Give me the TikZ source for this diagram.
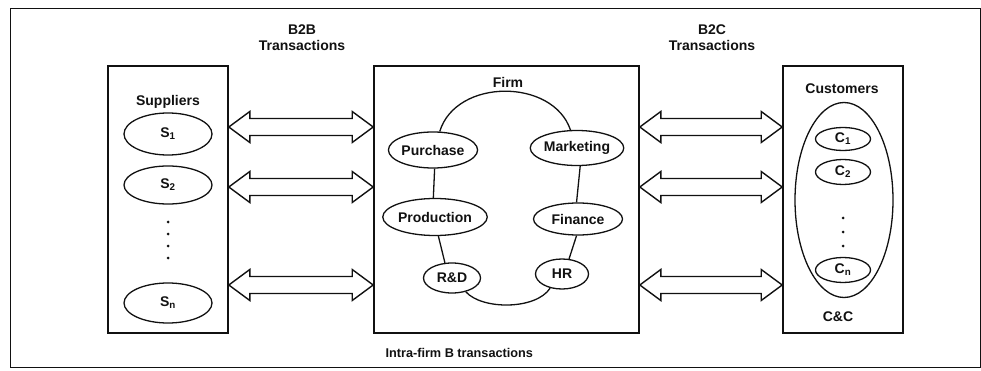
\documentclass[tikz,border=0pt]{standalone}
\usepackage{fontspec}
\setmainfont{Liberation Sans}
\usetikzlibrary{positioning,calc,shapes.geometric}
\definecolor{ink}{HTML}{111111}

% block arrow with a head at both ends, between two boxes at height #3
\newcommand{\twowayarrow}[3]{%
  \draw[twoway] (#1.east |- 0,#3) -- ++(21,-15.5) -- ++(0,7)
    -- ($(#2.west |- 0,#3)+(-21,-8.5)$) -- ++(0,-7) -- (#2.west |- 0,#3)
    -- ++(-21,15.5) -- ++(0,-7) -- ($(#1.east |- 0,#3)+(21,8.5)$) -- ++(0,7) -- cycle;}

\begin{document}
\begin{tikzpicture}[x=1pt,y=-1pt,
  font=\fontsize{14}{16}\selectfont\bfseries, text=ink,
  panel/.style={draw=ink,line width=1.6pt,minimum width=120pt,minimum height=267pt,inner sep=0pt},
  unit/.style={ellipse,draw=ink,line width=1.3pt,inner sep=0pt},
  flow/.style={draw=ink,line width=1.3pt},
  twoway/.style={draw=ink,fill=white,line width=1.4pt,line join=miter},
  dotmark/.style={circle,fill=ink,inner sep=0pt,minimum size=3pt}]
  \useasboundingbox (0,0) rectangle (981,371);
  \draw[ink,line width=0.9pt] (10,8) rectangle (980,367);

  % the three panels
  \node[panel] (sup) at (168,199.5) {};
  \node[panel,minimum width=265pt] (firm) at (506.5,199.5) {};
  \node[panel] (cust) at (843,199.5) {};

  \node[align=center] (b2b) at (302,38) {B2B\\Transactions};
  \node[align=center] (b2c) at (712,38) {B2C\\Transactions};

  % suppliers
  \node (suplabel) at (168,102) {Suppliers};
  \node[unit,minimum width=88pt,minimum height=42pt] (s1) at (168,134) {S\textsubscript{1}};
  \node[unit,minimum width=88pt,minimum height=38pt] (s2) at (168,185) {S\textsubscript{2}};
  \node[unit,minimum width=88pt,minimum height=40pt] (sn) at (168,303) {S\textsubscript{n}};
  \foreach \y in {222,234,246,258} \node[dotmark] at (168,\y) {};

  % firm
  \node (firmlabel) at (508,82) {Firm};
  \node[unit,minimum width=87pt,minimum height=36pt] (purchase) at (433,150) {Purchase};
  \node[unit,minimum width=88pt,minimum height=35pt] (marketing) at (577,148) {Marketing};
  \node[unit,minimum width=96pt,minimum height=37pt] (production) at (435,217) {Production};
  \node[unit,minimum width=89pt,minimum height=32pt] (finance) at (578,219) {Finance};
  \node[unit,minimum width=57pt,minimum height=30pt] (rd) at (452,278) {R\&D};
  \node[unit,minimum width=53pt,minimum height=30pt] (hr) at (562,274) {HR};

  \draw[flow] (purchase.70) .. controls (456,78) and (553,78) .. (marketing.110);
  \draw[flow] (marketing.-80) -- (finance.95);
  \draw[flow] (finance.-95) -- (hr.65);
  \draw[flow] (hr.-130) .. controls (536,310) and (482,310) .. (rd.-45);
  \draw[flow] (rd.115) -- (production.-80);
  \draw[flow] (production.95) -- (purchase.-85);

  % customers
  \node (custlabel) at (842,89) {Customers};
  \node[unit,minimum width=98pt,minimum height=195pt] (cgroup) at (844,200) {};
  \node[unit,minimum width=55pt,minimum height=23pt] (c1) at (843,139) {C\textsubscript{1}};
  \node[unit,minimum width=55pt,minimum height=25pt] (c2) at (843,172) {C\textsubscript{2}};
  \node[unit,minimum width=55pt,minimum height=25pt] (cn) at (843,270) {C\textsubscript{n}};
  \foreach \y in {218,232,246} \node[dotmark] at (843,\y) {};
  \node (cc) at (838,317) {C\&C};

  % transactions between the panels
  \foreach \y in {127,187,285} {
    \twowayarrow{sup}{firm}{\y}
    \twowayarrow{firm}{cust}{\y}
  }

  \node[anchor=west,font=\fontsize{12.7}{15}\selectfont\bfseries] (intra) at (382,353) {Intra-firm B transactions};
\end{tikzpicture}
\end{document}
